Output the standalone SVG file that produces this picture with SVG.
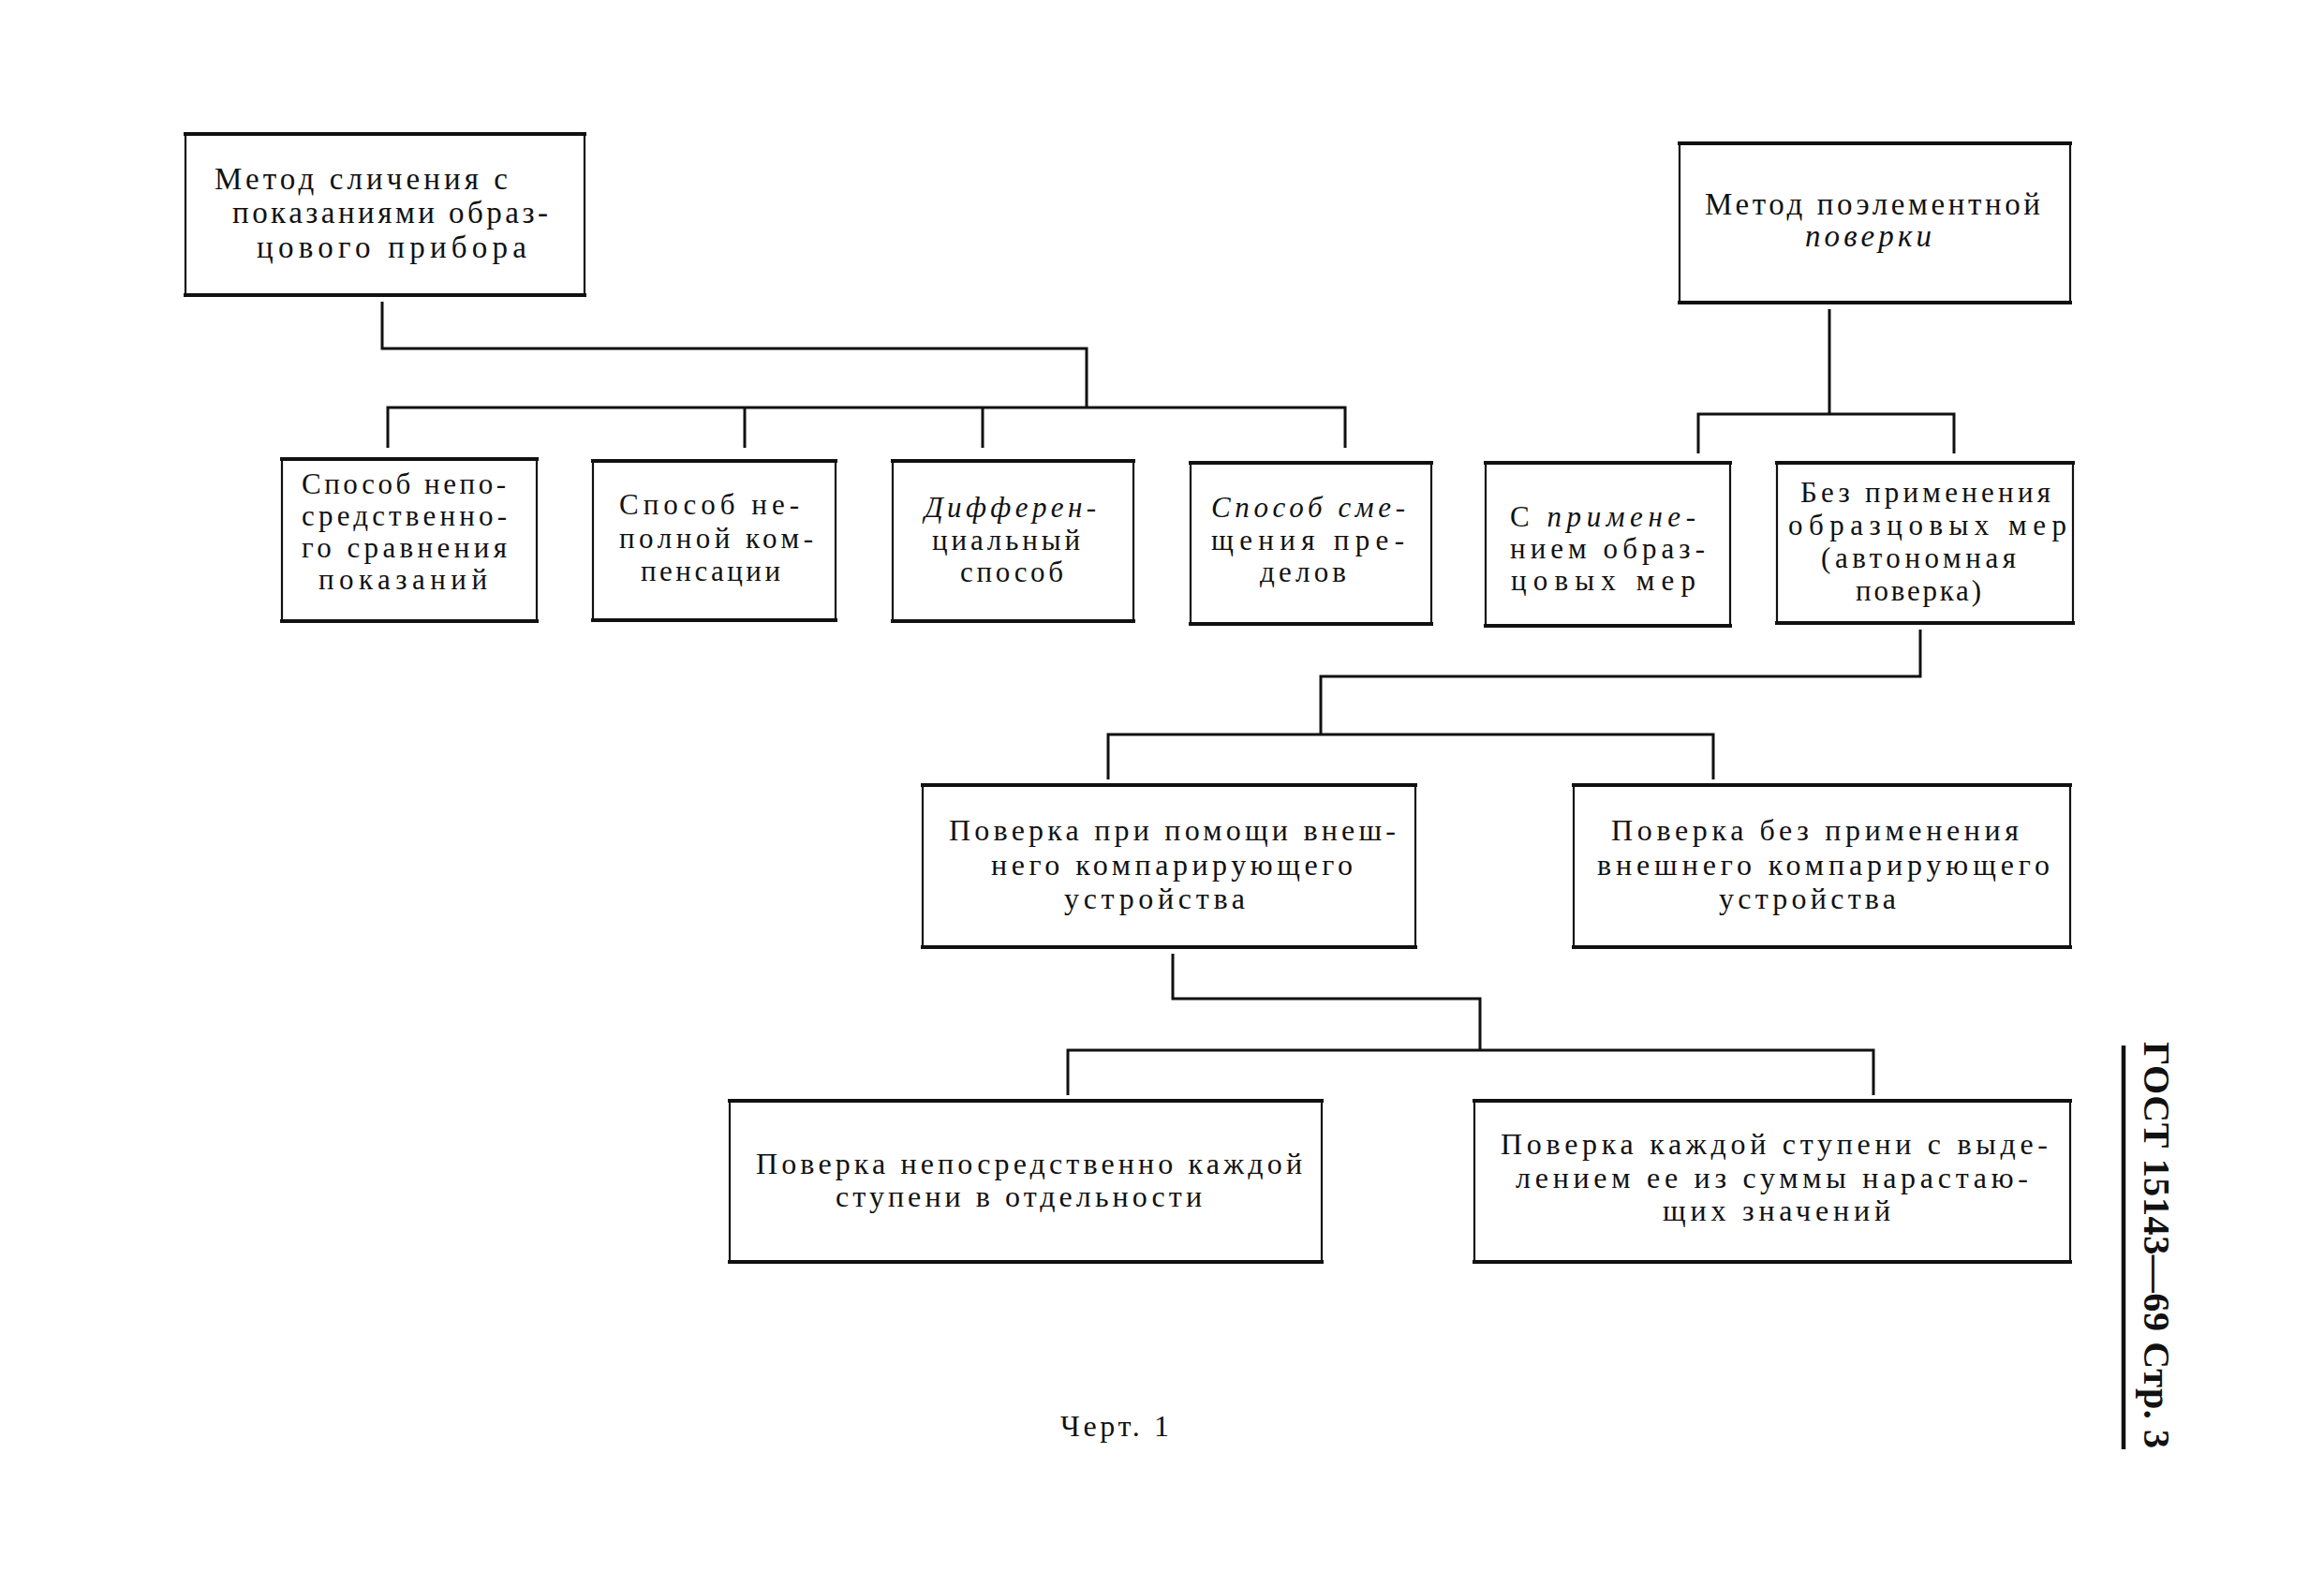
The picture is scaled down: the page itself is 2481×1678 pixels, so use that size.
<svg xmlns="http://www.w3.org/2000/svg" width="2481" height="1678" viewBox="0 0 2481 1678">
<style>
  .bg { fill: #ffffff; }
  .box { fill: none; stroke: #111; stroke-width: 2.2; }
  .edge { stroke: #111; stroke-width: 4; fill: none; }
  .conn { fill: none; stroke: #111; stroke-width: 3; stroke-linejoin: miter; }
  text { font-family: "Liberation Serif", "DejaVu Serif", serif; fill: #111; }
  .t1 { font-size: 33px; }
  .t2 { font-size: 31px; }
  .t3 { font-size: 32px; }
  .it { font-style: italic; }
  .side { font-size: 40px; font-weight: bold; }
</style>
<rect class="bg" x="0" y="0" width="2481" height="1678"/>

<g id="connectors">
  <path class="conn" d="M408,322 V372 H1160 V435"/>
  <path class="conn" d="M414,478 V435 H1436 V478"/>
  <path class="conn" d="M795,435 V478"/>
  <path class="conn" d="M1049,435 V478"/>
  <path class="conn" d="M1953,330 V442"/>
  <path class="conn" d="M1813,484 V442 H2086 V484"/>
  <path class="conn" d="M2050,672 V722 H1410 V784"/>
  <path class="conn" d="M1183,832 V784 H1829 V832"/>
  <path class="conn" d="M1252,1018 V1066 H1580 V1121"/>
  <path class="conn" d="M1140,1169 V1121 H2000 V1169"/>
</g>

<g id="node-metod-slicheniya">
  <rect class="box" x="198" y="143" width="426" height="172"/>
  <line class="edge" x1="196" y1="143" x2="626" y2="143"/>
  <line class="edge" x1="196" y1="315" x2="626" y2="315"/>
  <text class="t1" x="229" y="202" textLength="313">Метод сличения с</text>
  <text class="t1" x="248" y="238" textLength="337">показаниями образ-</text>
  <text class="t1" x="274" y="275" textLength="288">цового прибора</text>
</g>

<g id="node-metod-poelementnoy">
  <rect class="box" x="1793" y="153" width="417" height="170"/>
  <line class="edge" x1="1791" y1="153" x2="2212" y2="153"/>
  <line class="edge" x1="1791" y1="323" x2="2212" y2="323"/>
  <text class="t1" x="1820" y="229" textLength="358">Метод поэлементной</text>
  <text class="t1 it" x="1927" y="263" textLength="135">поверки</text>
</g>

<g id="node-neposredstvennogo">
  <rect class="box" x="301" y="490" width="272" height="173"/>
  <line class="edge" x1="299" y1="490" x2="575" y2="490"/>
  <line class="edge" x1="299" y1="663" x2="575" y2="663"/>
  <text class="t2" x="322" y="527" textLength="218">Способ непо-</text>
  <text class="t2" x="322" y="561" textLength="219">средственно-</text>
  <text class="t2" x="322" y="595" textLength="219">го сравнения</text>
  <text class="t2" x="340" y="629" textLength="180">показаний</text>
</g>

<g id="node-nepolnoy">
  <rect class="box" x="633" y="492" width="259" height="170"/>
  <line class="edge" x1="631" y1="492" x2="894" y2="492"/>
  <line class="edge" x1="631" y1="662" x2="894" y2="662"/>
  <text class="t2" x="661" y="549" textLength="192">Способ не-</text>
  <text class="t2" x="661" y="585" textLength="207">полной ком-</text>
  <text class="t2" x="684" y="620" textLength="149">пенсации</text>
</g>

<g id="node-differencialny">
  <rect class="box" x="953" y="492" width="257" height="171"/>
  <line class="edge" x1="951" y1="492" x2="1212" y2="492"/>
  <line class="edge" x1="951" y1="663" x2="1212" y2="663"/>
  <text class="t2 it" x="987" y="552" textLength="183">Дифферен-</text>
  <text class="t2" x="995" y="587" textLength="158">циальный</text>
  <text class="t2" x="1025" y="621" textLength="110">способ</text>
</g>

<g id="node-smescheniya">
  <rect class="box" x="1271" y="494" width="257" height="172"/>
  <line class="edge" x1="1269" y1="494" x2="1530" y2="494"/>
  <line class="edge" x1="1269" y1="666" x2="1530" y2="666"/>
  <text class="t2 it" x="1293" y="552" textLength="207">Способ сме-</text>
  <text class="t2" x="1293" y="587" textLength="206">щения пре-</text>
  <text class="t2" x="1345" y="621" textLength="92">делов</text>
</g>

<g id="node-s-primeneniem">
  <rect class="box" x="1586" y="494" width="261" height="174"/>
  <line class="edge" x1="1584" y1="494" x2="1849" y2="494"/>
  <line class="edge" x1="1584" y1="668" x2="1849" y2="668"/>
  <text class="t2" x="1612" y="562" textLength="198">С <tspan class="it">примене-</tspan></text>
  <text class="t2" x="1612" y="596" textLength="208">нием образ-</text>
  <text class="t2" x="1613" y="630" textLength="197">цовых мер</text>
</g>

<g id="node-bez-primeneniya">
  <rect class="box" x="1897" y="494" width="316" height="171"/>
  <line class="edge" x1="1895" y1="494" x2="2215" y2="494"/>
  <line class="edge" x1="1895" y1="665" x2="2215" y2="665"/>
  <text class="t2" x="1922" y="536" textLength="267">Без применения</text>
  <text class="t2" x="1909" y="571" textLength="297">образцовых мер</text>
  <text class="t2" x="1944" y="606" textLength="208">(автономная</text>
  <text class="t2" x="1981" y="641" textLength="134">поверка)</text>
</g>

<g id="node-pri-pomoschi">
  <rect class="box" x="985" y="838" width="526" height="173"/>
  <line class="edge" x1="983" y1="838" x2="1513" y2="838"/>
  <line class="edge" x1="983" y1="1011" x2="1513" y2="1011"/>
  <text class="t3" x="1013" y="897" textLength="477">Поверка при помощи внеш-</text>
  <text class="t3" x="1058" y="934" textLength="386">него компарирующего</text>
  <text class="t3" x="1136" y="970" textLength="193">устройства</text>
</g>

<g id="node-bez-vneshnego">
  <rect class="box" x="1680" y="838" width="530" height="173"/>
  <line class="edge" x1="1678" y1="838" x2="2212" y2="838"/>
  <line class="edge" x1="1678" y1="1011" x2="2212" y2="1011"/>
  <text class="t3" x="1720" y="897" textLength="435">Поверка без применения</text>
  <text class="t3" x="1705" y="934" textLength="483">внешнего компарирующего</text>
  <text class="t3" x="1835" y="970" textLength="189">устройства</text>
</g>

<g id="node-kazhdoy-otdelno">
  <rect class="box" x="779" y="1175" width="632" height="172"/>
  <line class="edge" x1="777" y1="1175" x2="1413" y2="1175"/>
  <line class="edge" x1="777" y1="1347" x2="1413" y2="1347"/>
  <text class="t3" x="807" y="1253" textLength="583">Поверка непосредственно каждой</text>
  <text class="t3" x="892" y="1288" textLength="391">ступени в отдельности</text>
</g>

<g id="node-vydeleniem">
  <rect class="box" x="1574" y="1175" width="636" height="172"/>
  <line class="edge" x1="1572" y1="1175" x2="2212" y2="1175"/>
  <line class="edge" x1="1572" y1="1347" x2="2212" y2="1347"/>
  <text class="t3" x="1602" y="1232" textLength="584">Поверка каждой ступени с выде-</text>
  <text class="t3" x="1618" y="1268" textLength="547">лением ее из суммы нарастаю-</text>
  <text class="t3" x="1775" y="1303" textLength="243">щих значений</text>
</g>

<text class="t3" x="1132" y="1533" textLength="116">Черт. 1</text>

<line x1="2267" y1="1116" x2="2267" y2="1547" stroke="#111" stroke-width="4.5"/>
<text class="side" transform="translate(2289,1112) rotate(90)" x="0" y="0" textLength="434">ГОСТ  15143—69  Стр.  3</text>
</svg>
